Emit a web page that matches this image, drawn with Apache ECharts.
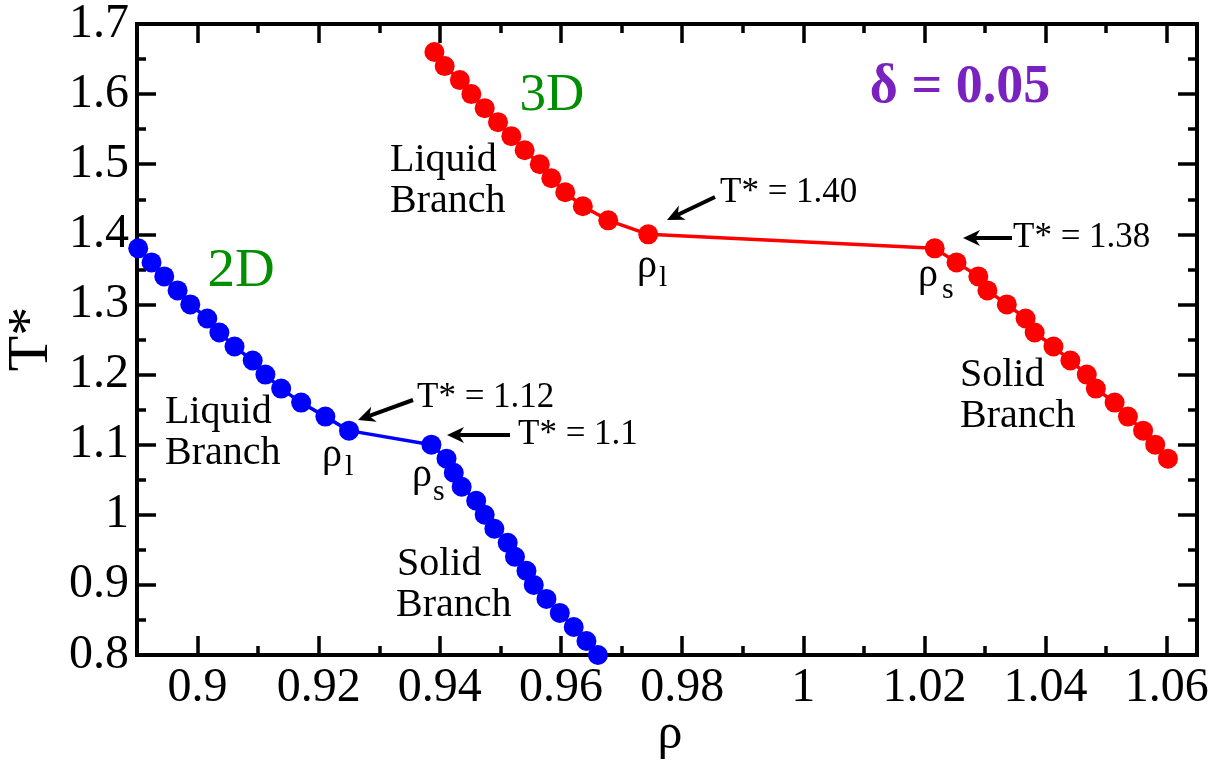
<!DOCTYPE html>
<html><head><meta charset="utf-8">
<script src="https://cdn.jsdelivr.net/npm/echarts@6/dist/echarts.min.js"></script>
<style>html,body{margin:0;padding:0;background:#fff}#c{width:1226px;height:765px}</style>
</head><body><div id="c"></div>
<script>
// ---- data ----
const xTickLabels = [0.9, 0.92, 0.94, 0.96, 0.98, 1.0, 1.02, 1.04, 1.06];
const xMinorTicks = [0.91, 0.93, 0.95, 0.97, 0.99, 1.01, 1.03, 1.05];
const yTickLabels = [0.8, 0.9, 1.0, 1.1, 1.2, 1.3, 1.4, 1.5, 1.6, 1.7];
const yMinorTicks = [0.85, 0.95, 1.05, 1.15, 1.25, 1.35, 1.45, 1.55, 1.65];

const rho2D = [0.8902, 0.8924, 0.8945, 0.8967, 0.8988, 0.9016, 0.9036, 0.9061, 0.9091, 0.9112, 0.9138, 0.9171, 0.9211, 0.9250,
               0.9386, 0.9411, 0.9423, 0.9436, 0.9460, 0.9474, 0.9490, 0.9512, 0.9524, 0.9543, 0.9555, 0.9576, 0.9598, 0.9621, 0.9642, 0.9661];
const T2D   = [1.38, 1.36, 1.34, 1.32, 1.30, 1.28, 1.26, 1.24, 1.22, 1.20, 1.18, 1.16, 1.14, 1.12,
               1.10, 1.08, 1.06, 1.04, 1.02, 1.00, 0.98, 0.96, 0.94, 0.92, 0.90, 0.88, 0.86, 0.84, 0.82, 0.80];

const rho3D = [0.9391, 0.9408, 0.9433, 0.9452, 0.9474, 0.9496, 0.9518, 0.9540, 0.9565, 0.9584, 0.9607, 0.9636, 0.9678, 0.9744,
               1.0217, 1.0253, 1.0289, 1.0304, 1.0336, 1.0367, 1.0382, 1.0413, 1.0441, 1.0468, 1.0483, 1.0514, 1.0536, 1.0561, 1.0581, 1.0602];
const T3D   = [1.66, 1.64, 1.62, 1.60, 1.58, 1.56, 1.54, 1.52, 1.50, 1.48, 1.46, 1.44, 1.42, 1.40,
               1.38, 1.36, 1.34, 1.32, 1.30, 1.28, 1.26, 1.24, 1.22, 1.20, 1.18, 1.16, 1.14, 1.12, 1.10, 1.08];

// ---- build ----
const FONT = 'Liberation Serif';
const X_MIN = 0.89, X_MAX = 1.065, Y_MIN = 0.8, Y_MAX = 1.7;
const zip = (a, b) => a.map((v, i) => [v, b[i]]);
const fmt = v => String(+(+v).toFixed(2));

function mkAxis(kind, pos, ticks, len, labels, showLine) {
  return {
    type: 'value', position: pos,
    min: kind === 'x' ? X_MIN : Y_MIN, max: kind === 'x' ? X_MAX : Y_MAX,
    axisLine: { show: showLine, onZero: false, lineStyle: { color: '#000', width: 4, cap: 'square' } },
    axisTick: { show: true, inside: true, length: len, customValues: ticks, lineStyle: { color: '#000', width: 3.5 } },
    axisLabel: labels ? { show: true, customValues: ticks, formatter: fmt, fontFamily: FONT, fontSize: 48, color: '#000', margin: kind === 'x' ? 9 : 8 } : { show: false },
    splitLine: { show: false }
  };
}

const chart = echarts.init(document.getElementById('c'), null, { renderer: 'canvas' });

function arrow(x1, y1, x2, y2) {
  const dx = x2 - x1, dy = y2 - y1, L = Math.hypot(dx, dy);
  const ux = dx / L, uy = dy / L, px = -uy, py = ux;
  const hl = 17, hw = 8, notch = 5;
  const bx = x2 - ux * hl, by = y2 - uy * hl;
  return [
    { type: 'line', shape: { x1: x1, y1: y1, x2: x2 - ux * (hl - notch), y2: y2 - uy * (hl - notch) }, style: { stroke: '#000', lineWidth: 4 }, z: 100 },
    { type: 'polygon', shape: { points: [[x2, y2], [bx + px * hw, by + py * hw], [x2 - ux * (hl - notch), y2 - uy * (hl - notch)], [bx - px * hw, by - py * hw]] }, style: { fill: '#000' }, z: 100 }
  ];
}
function txt(t, x, y, size, opts) {
  opts = opts || {};
  return { type: 'text', z: 100, x: x, y: y, rotation: opts.rot || 0,
    style: { text: t, x: 0, y: 0, fill: opts.color || '#000', fontFamily: FONT, fontSize: size, fontWeight: opts.weight || 'normal',
             textAlign: opts.align || 'left', textVerticalAlign: 'middle' } };
}

const green = '#008f00', purple = '#7a22bf';
const graphics = [].concat(
  txt('3D', 552, 96, 53, { color: green, align: 'center' }),
  txt('2D', 241, 272, 55, { color: green, align: 'center' }),
  txt('δ = 0.05', 960, 88, 54, { color: purple, align: 'center', weight: 'bold' }),
  txt('Liquid', 390, 160, 40), txt('Branch', 390, 201, 40),
  txt('Liquid', 165, 412, 40), txt('Branch', 165, 453, 40),
  txt('Solid', 397, 564, 40), txt('Branch', 396, 605, 40),
  txt('Solid', 960, 375, 40), txt('Branch', 960, 416, 40),
  txt('T* = 1.40', 720, 193, 35), arrow(715, 197, 667, 220),
  txt('T* = 1.38', 1013, 238, 35), arrow(1012, 238, 963, 238),
  txt('T* = 1.12', 417, 398, 35), arrow(413, 400, 358, 420),
  txt('T* = 1.1', 518, 435, 35), arrow(510, 435, 447, 435),
  txt('ρ', 637, 266, 40), txt('l', 659, 278, 30),
  txt('ρ', 918, 275, 40), txt('s', 942, 290, 30),
  txt('ρ', 322, 455, 40), txt('l', 345, 467, 30),
  txt('ρ', 412, 475, 40), txt('s', 433, 492, 30),
  txt('ρ', 670, 735, 50, { align: 'center' }),
  txt('T*', 32, 339, 58, { align: 'center', rot: Math.PI / 2 })
);

chart.setOption({
  animation: false,
  backgroundColor: '#fff',
  grid: { left: 137, right: 29, top: 23, bottom: 110, containLabel: false },
  xAxis: [
    mkAxis('x', 'bottom', xTickLabels, 19, true, true),
    mkAxis('x', 'bottom', xMinorTicks, 9, false, false),
    mkAxis('x', 'top', xTickLabels, 19, false, true),
    mkAxis('x', 'top', xMinorTicks, 9, false, false)
  ],
  yAxis: [
    mkAxis('y', 'left', yTickLabels, 19, true, true),
    mkAxis('y', 'left', yMinorTicks, 9, false, false),
    mkAxis('y', 'right', yTickLabels, 19, false, true),
    mkAxis('y', 'right', yMinorTicks, 9, false, false)
  ],
  series: [
    { type: 'line', name: '2D', data: zip(rho2D, T2D), clip: false, symbol: 'circle', symbolSize: 20, itemStyle: { color: '#0000ff' }, lineStyle: { color: '#0000ff', width: 3.5 }, z: 5 },
    { type: 'line', name: '3D', data: zip(rho3D, T3D), clip: false, symbol: 'circle', symbolSize: 20, itemStyle: { color: '#ff0000' }, lineStyle: { color: '#ff0000', width: 3.5 }, z: 5 }
  ],
  graphic: graphics
});
</script></body></html>
